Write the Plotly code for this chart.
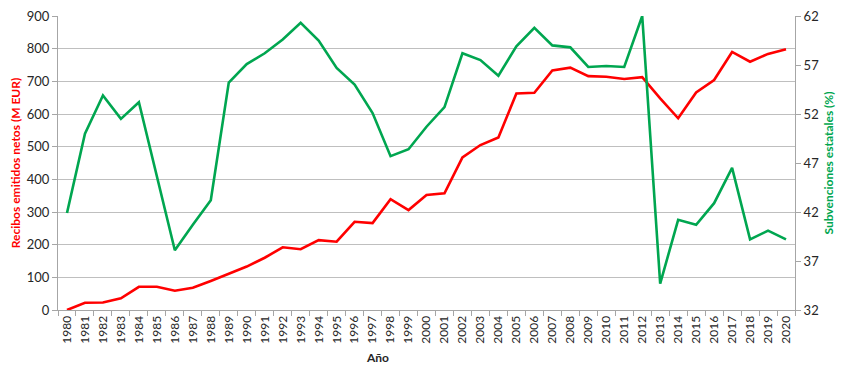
import plotly.graph_objects as go

years = [str(y) for y in range(1980, 2021)]
recibos = [0, 22, 23, 36, 71, 71, 59, 68, 89, 112, 133, 160, 192, 186, 214, 209, 270, 266,
           339, 306, 352, 357, 467, 505, 528, 663, 665, 733, 742, 716, 714, 707, 713, 648,
           587, 666, 704, 790, 760, 784, 798]
subvenciones = [41.9, 50.0, 53.9, 51.5, 53.2, 45.6, 38.1, 40.7, 43.2, 55.2, 57.1, 58.2, 59.6,
                61.3, 59.5, 56.7, 55.0, 52.1, 47.7, 48.4, 50.7, 52.7, 58.2, 57.5, 55.9, 58.9,
                60.8, 59.0, 58.8, 56.8, 56.9, 56.8, 62.0, 34.7, 41.2, 40.7, 42.9, 46.5, 39.2,
                40.1, 39.2]

RED = "#FF0000"
GREEN = "#00A650"
FONT = "Lato"

fig = go.Figure()
fig.add_trace(go.Scatter(x=years, y=recibos, mode="lines", line=dict(color=RED, width=2.6),
                         name="Recibos", yaxis="y"))
fig.add_trace(go.Scatter(x=years, y=subvenciones, mode="lines", line=dict(color=GREEN, width=2.6),
                         name="Subvenciones", yaxis="y2"))

fig.update_layout(
    width=839, height=364,
    margin=dict(l=50, r=52, t=8, b=62, autoexpand=False),
    paper_bgcolor="white", plot_bgcolor="white",
    showlegend=False,
    font=dict(family=FONT, size=12, color="#404040"),
    xaxis=dict(
        type="category", range=[-0.5, 40.5], tickangle=-90, automargin=False,
        ticks="outside", tickson="boundaries", ticklen=5, tickcolor="#a6a6a6",
        showline=True, linecolor="#a6a6a6", linewidth=1, showgrid=False,
        tickfont=dict(size=12, color="#262626"), ticklabeloverflow="allow",
    ),
    yaxis=dict(
        range=[0, 900], dtick=100, tick0=0, automargin=False, ticklabeloverflow="allow",
        showgrid=True, gridcolor="#bfbfbf", gridwidth=1,
        showline=True, linecolor="#a6a6a6", ticks="outside", ticklen=5, tickcolor="#a6a6a6",
        tickfont=dict(size=13, color="#262626"), zeroline=False,
        title=dict(text="Recibos emitidos netos (M EUR)", font=dict(size=12, color=RED, weight="bold"),
                   standoff=6),
    ),
    yaxis2=dict(
        range=[32, 62], dtick=5, tick0=32, overlaying="y", side="right", automargin=False,
        ticklabeloverflow="allow",
        showgrid=False, showline=True, linecolor="#a6a6a6", ticks="outside", ticklen=5,
        tickcolor="#a6a6a6", tickfont=dict(size=13, color="#262626"), zeroline=False,
        title=dict(text="Subvenciones estatales (%)", font=dict(size=12, color=GREEN, weight="bold"),
                   standoff=6),
    ),
    annotations=[dict(text="Año", xref="paper", yref="paper", x=0.433, y=-0.16,
                      xanchor="center", yanchor="middle", showarrow=False,
                      font=dict(size=12, color="#262626", weight="bold"))],
)

fig.write_html("out.html")
